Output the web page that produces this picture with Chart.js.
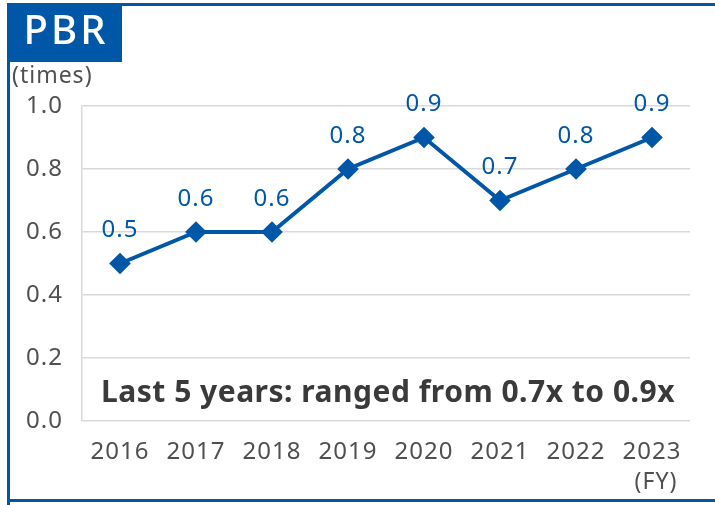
<!DOCTYPE html>
<html><head><meta charset="utf-8">
<script src="https://cdn.jsdelivr.net/npm/chart.js@4/dist/chart.umd.min.js"></script>
<style>html,body{margin:0;padding:0;background:#fff;}#wrap{width:715px;height:505px;position:relative;}</style>
</head><body><div id="wrap"><canvas id="c" width="715" height="505"></canvas></div>
<script>
const categories = ['2016','2017','2018','2019','2020','2021','2022','2023'];
const pbrValues = [0.5, 0.6, 0.6, 0.8, 0.9, 0.7, 0.8, 0.9];
const yTicks = [0.0, 0.2, 0.4, 0.6, 0.8, 1.0];
const titleText = 'PBR';
const unitText = '(times)';
const fyText = '(FY)';
const noteText = 'Last 5 years: ranged from 0.7x to 0.9x';

const BLUE = '#0057a8';
const TXT = '#505050';
const FONT = '"Noto Sans", sans-serif';

const deco = {
  id: 'deco',
  beforeDraw(chart) {
    const ctx = chart.ctx;
    ctx.save();
    ctx.fillStyle = BLUE;
    ctx.fillRect(7, 3, 715 - 7, 3);
    ctx.fillRect(7, 3, 3, 505 - 3);
    ctx.fillRect(7, 499, 715 - 7, 3);
    ctx.fillRect(7, 3, 115, 59);
    ctx.restore();
    if (ctx.letterSpacing !== undefined) ctx.letterSpacing = '1px';
  },
  afterDatasetsDraw(chart) {
    const ctx = chart.ctx;
    ctx.save();
    const ls = v => { if (ctx.letterSpacing !== undefined) ctx.letterSpacing = v; };
    // title
    ctx.fillStyle = '#ffffff';
    ctx.font = '500 40px ' + FONT;
    ctx.textAlign = 'center';
    ctx.textBaseline = 'middle';
    ls('3px');
    ctx.fillText(titleText, 66, 33);
    // unit
    ls('1px');
    ctx.fillStyle = TXT;
    ctx.font = '23px ' + FONT;
    ctx.textAlign = 'left';
    ctx.fillText(unitText, 12, 76);
    // FY
    ctx.textAlign = 'center';
    ctx.fillText(fyText, 656, 482);
    // note
    ls('0.5px');
    ctx.font = 'bold 30px ' + FONT;
    ctx.fillStyle = '#3a3a3a';
    ctx.fillText(noteText, 388, 393);
    // data labels
    ls('1px');
    const meta = chart.getDatasetMeta(0);
    ctx.font = '24px ' + FONT;
    ctx.fillStyle = BLUE;
    meta.data.forEach((pt, i) => {
      ctx.fillText(pbrValues[i].toFixed(1), pt.x, pt.y - 33);
    });
    ctx.restore();
  }
};

new Chart(document.getElementById('c'), {
  type: 'line',
  data: {
    labels: categories,
    datasets: [{
      data: pbrValues,
      borderColor: BLUE,
      backgroundColor: BLUE,
      borderWidth: 4,
      pointStyle: 'rectRot',
      pointRadius: 8,
      pointHoverRadius: 8,
      tension: 0
    }]
  },
  options: {
    responsive: false,
    animation: false,
    events: [],
    layout: { padding: { top: 106, right: 25, bottom: 0, left: 0 } },
    plugins: { legend: { display: false }, tooltip: { enabled: false }, title: { display: false } },
    scales: {
      x: {
        offset: true,
        grid: { display: false, drawTicks: false },
        border: { display: false },
        ticks: { color: TXT, font: { family: FONT, size: 24 }, padding: 17, maxRotation: 0 },
        afterFit(s) { s.height = 84; }
      },
      y: {
        min: 0, max: 1.0,
        afterBuildTicks(s) { s.ticks = yTicks.map(v => ({ value: v })); },
        grid: { color: '#d9d9d9', lineWidth: 1.5, drawTicks: false },
        border: { display: true, color: '#d9d9d9', width: 1.5 },
        ticks: { color: TXT, font: { family: FONT, size: 24 }, padding: 19, callback: v => Number(v).toFixed(1) },
        afterFit(s) { s.width = 82; }
      }
    }
  },
  plugins: [deco]
});
</script></body></html>
